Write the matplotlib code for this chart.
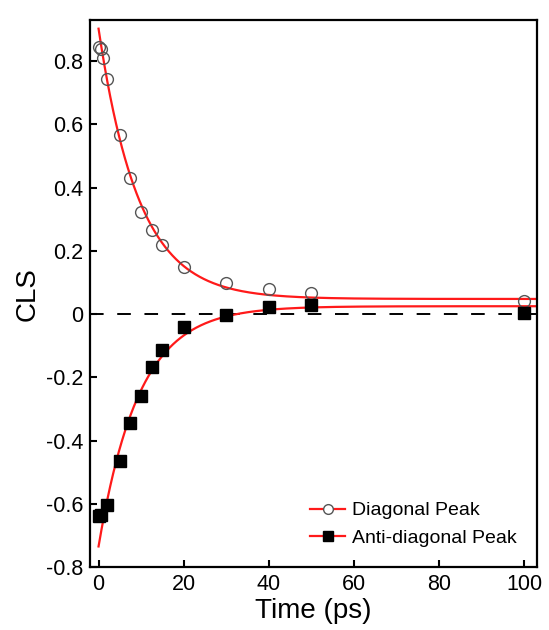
import numpy as np
import matplotlib
matplotlib.use("Agg")
import matplotlib.pyplot as plt
from matplotlib.lines import Line2D

plt.rcParams['font.family'] = ['Liberation Sans', 'DejaVu Sans']

# diagonal peak (open circles)
t_diag = [0, 0.5, 1, 2, 5, 7.5, 10, 12.5, 15, 20, 30, 40, 50, 100]
cls_diag = [0.845, 0.838, 0.81, 0.745, 0.566, 0.432, 0.323, 0.267, 0.22, 0.15, 0.098, 0.08, 0.068, 0.04]

# anti-diagonal peak (filled squares)
t_anti = [0, 0.5, 2, 5, 7.5, 10, 12.5, 15, 20, 30, 40, 50, 100]
cls_anti = [-0.64, -0.635, -0.605, -0.465, -0.343, -0.259, -0.166, -0.112, -0.04, -0.003, 0.023, 0.03, 0.005]

# exponential fits: A*exp(-t/tau) + c
fit_diag = dict(A=0.855, tau=9.5, c=0.048)
fit_anti = dict(A=-0.76, tau=9.5, c=0.025)

fig = plt.figure(figsize=(5.49, 6.3), dpi=100)
ax = fig.add_axes([0.164, 0.1, 0.814, 0.868])

tt = np.linspace(0, 103, 600)
for p in (fit_diag, fit_anti):
    ax.plot(tt, p['A'] * np.exp(-tt / p['tau']) + p['c'], color='#ff1a1a', lw=1.6, zorder=2)

ax.axhline(0, color='black', lw=1.4, ls=(0, (7, 7)), zorder=1)

ax.plot(t_diag, cls_diag, 'o', ms=8.5, mfc='none', mec='#555555', mew=1.0, zorder=3)
ax.plot(t_anti, cls_anti, 's', ms=8.5, mfc='black', mec='black', zorder=3)

ax.set_xlim(-2, 103)
ax.set_ylim(-0.8, 0.93)
ax.set_xticks([0, 20, 40, 60, 80, 100])
ax.set_yticks([-0.8, -0.6, -0.4, -0.2, 0, 0.2, 0.4, 0.6, 0.8])
ax.set_yticklabels(['-0.8', '-0.6', '-0.4', '-0.2', '0', '0.2', '0.4', '0.6', '0.8'])
ax.tick_params(direction='in', length=5, width=1.5, labelsize=15.5, pad=5)
for s in ax.spines.values():
    s.set_linewidth(1.6)

ax.set_xlabel('Time (ps)', fontsize=20, labelpad=2)
ax.set_ylabel('CLS', fontsize=20, labelpad=4)

handles = [
    Line2D([], [], color='#ff1a1a', lw=1.6, marker='o', ms=7, mfc='white', mec='#555555', mew=1.0),
    Line2D([], [], color='#ff1a1a', lw=1.6, marker='s', ms=7, mfc='black', mec='black'),
]
ax.legend(handles, ['Diagonal Peak', 'Anti-diagonal Peak'], loc='lower right',
          bbox_to_anchor=(0.985, 0.012), frameon=False, fontsize=14,
          handlelength=1.8, handletextpad=0.35, borderaxespad=0.3, labelspacing=0.5)

fig.savefig('out.png', dpi=100)
